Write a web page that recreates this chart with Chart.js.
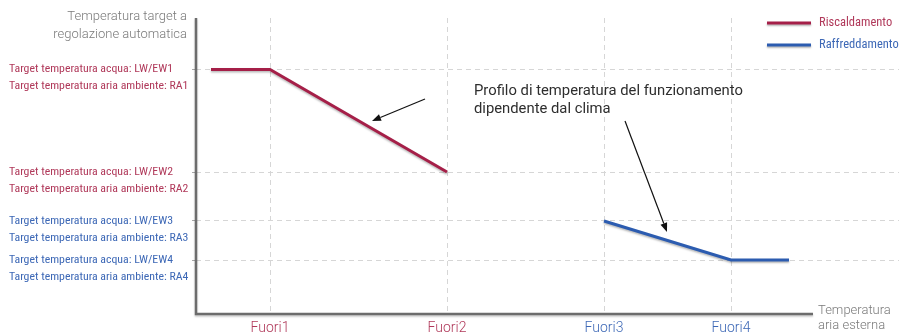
<!DOCTYPE html>
<html>
<head>
<meta charset="utf-8">
<script src="https://cdn.jsdelivr.net/npm/chart.js@4"></script>
<style>
  html, body { margin: 0; padding: 0; background: #fff; }
  #wrap { width: 899px; height: 335px; position: relative; }
</style>
</head>
<body>
<div id="wrap"><canvas id="chart"></canvas></div>
<script>
// dati (unità arbitrarie)
const fuoriLabels = ['Fuori1', 'Fuori2', 'Fuori3', 'Fuori4'];
const fuoriX = [7.4, 25.1, 40.8, 53.5];

const levelY = [24.45, 14.2, 9.3, 5.4];
const levelLabels = [
  ['Target temperatura acqua: LW/EW1', 'Target temperatura aria ambiente: RA1'],
  ['Target temperatura acqua: LW/EW2', 'Target temperatura aria ambiente: RA2'],
  ['Target temperatura acqua: LW/EW3', 'Target temperatura aria ambiente: RA3'],
  ['Target temperatura acqua: LW/EW4', 'Target temperatura aria ambiente: RA4'],
];

const heatingX = [1.5, 7.4, 25.1];
const heatingY = [24.45, 24.45, 14.2];
const coolingX = [40.8, 53.5, 59.3];
const coolingY = [9.3, 5.4, 5.4];

const yTitle = ['Temperatura target a', 'regolazione automatica'];
const xTitle = ['Temperatura', 'aria esterna'];
const noteLines = ['Profilo di temperatura del funzionamento', 'dipendente dal clima'];
const noteAt = { x: 27.8, y: [22.3, 20.5] };
// frecce: [da x, da y, a x, a y]
const arrows = [
  [22.9, 21.5, 17.6, 19.3],
  [42.9, 19.3, 47.1, 8.2],
];
const X_MAX = 70.3;
const Y_MAX = 29.6;
const X_AXIS_END = 61.7;

const RED = '#a51f48';
const BLUE = '#2c5cb0';
const RED_TXT = '#b0395a';
const BLUE_TXT = '#3d68b6';
const GRAY_TXT = '#7a7a7a';
const AXIS = '#6c6c6c';
const GRID = '#d6d6d6';
const NARROW = "'Roboto Condensed', 'DejaVu Sans Condensed', sans-serif";

const fuoriColors = [RED_TXT, RED_TXT, BLUE_TXT, BLUE_TXT];

function toPoints(xs, ys) {
  return xs.map((x, i) => ({ x, y: ys[i] }));
}

function drawArrow(ctx, x1, y1, x2, y2) {
  const ang = Math.atan2(y2 - y1, x2 - x1);
  const len = 9, half = 3.5;
  const bx = x2 - len * Math.cos(ang), by = y2 - len * Math.sin(ang);
  ctx.beginPath();
  ctx.moveTo(x1, y1);
  ctx.lineTo(bx, by);
  ctx.stroke();
  ctx.beginPath();
  ctx.moveTo(x2, y2);
  ctx.lineTo(bx + half * Math.sin(ang), by - half * Math.cos(ang));
  ctx.lineTo(bx - half * Math.sin(ang), by + half * Math.cos(ang));
  ctx.closePath();
  ctx.fill();
}

const decor = {
  id: 'decor',
  beforeDatasetsDraw(chart) {
    const c = chart.ctx;
    c.save();
    c.shadowColor = 'rgba(0,0,0,0.28)';
    c.shadowBlur = 2;
    c.shadowOffsetY = 1.5;
  },
  afterDatasetsDraw(chart) {
    chart.ctx.restore();
  },
  afterDraw(chart) {
    const { ctx, chartArea: a, scales: { x, y } } = chart;

    // assi
    ctx.save();
    ctx.strokeStyle = AXIS;
    ctx.lineWidth = 2.5;
    ctx.shadowColor = 'rgba(0,0,0,0.22)';
    ctx.shadowBlur = 2;
    ctx.shadowOffsetY = 1.5;
    ctx.beginPath();
    ctx.moveTo(a.left, a.top);
    ctx.lineTo(a.left, a.bottom);
    ctx.lineTo(x.getPixelForValue(X_AXIS_END), a.bottom);
    ctx.stroke();
    ctx.restore();

    ctx.save();
    ctx.textBaseline = 'middle';
    ctx.font = '300 13px Roboto';
    ctx.fillStyle = GRAY_TXT;
    ctx.textAlign = 'right';
    ctx.fillText(yTitle[0], a.left - 9, 17);
    ctx.fillText(yTitle[1], a.left - 9, 35);
    ctx.textAlign = 'left';
    const ex = x.getPixelForValue(X_AXIS_END) + 5;
    ctx.fillText(xTitle[0], ex, a.bottom - 3);
    ctx.fillText(xTitle[1], ex, a.bottom + 12);

    // nota
    ctx.font = '14.8px Roboto';
    ctx.fillStyle = '#2e2e2e';
    noteLines.forEach((t, i) => ctx.fillText(t, x.getPixelForValue(noteAt.x), y.getPixelForValue(noteAt.y[i])));

    // frecce
    ctx.strokeStyle = '#111';
    ctx.fillStyle = '#111';
    ctx.lineWidth = 1.2;
    arrows.forEach(([x1, y1, x2, y2]) => drawArrow(ctx,
      x.getPixelForValue(x1), y.getPixelForValue(y1),
      x.getPixelForValue(x2), y.getPixelForValue(y2)));

    // legenda
    const lx = chart.width - 132;
    chart.data.datasets.forEach((ds, i) => {
      const ly = 23 + i * 22;
      ctx.save();
      ctx.strokeStyle = ds.borderColor;
      ctx.lineWidth = 3;
      ctx.shadowColor = 'rgba(0,0,0,0.28)';
      ctx.shadowBlur = 2;
      ctx.shadowOffsetY = 1.5;
      ctx.beginPath();
      ctx.moveTo(lx, ly);
      ctx.lineTo(lx + 44, ly);
      ctx.stroke();
      ctx.restore();
      ctx.font = '12.5px ' + NARROW;
      ctx.fillStyle = i === 0 ? RED_TXT : BLUE_TXT;
      ctx.fillText(ds.label, lx + 52, ly);
    });
    ctx.restore();
  },
};

new Chart(document.getElementById('chart'), {
  type: 'line',
  data: {
    datasets: [
      {
        label: 'Riscaldamento',
        data: toPoints(heatingX, heatingY),
        borderColor: RED,
        borderWidth: 3,
        pointRadius: 0,
        tension: 0,
      },
      {
        label: 'Raffreddamento',
        data: toPoints(coolingX, coolingY),
        borderColor: BLUE,
        borderWidth: 3,
        pointRadius: 0,
        tension: 0,
      },
    ],
  },
  options: {
    responsive: true,
    maintainAspectRatio: false,
    animation: false,
    layout: { padding: { top: 18, left: 9, right: 0, bottom: 0 } },
    plugins: { legend: { display: false }, tooltip: { enabled: false } },
    scales: {
      x: {
        type: 'linear',
        min: 0,
        max: X_MAX,
        afterBuildTicks: s => { s.ticks = fuoriX.map(v => ({ value: v })); },
        afterFit: s => { s.height = 21; s.paddingLeft = 0; s.paddingRight = 0; },
        ticks: {
          autoSkip: false,
          maxRotation: 0,
          padding: 6,
          callback: (v, i) => fuoriLabels[i],
          color: ctx => fuoriColors[ctx.index],
          font: { family: 'Roboto', size: 14, weight: '300' },
        },
        grid: { color: GRID, lineWidth: 1, drawTicks: false },
        border: { display: false, dash: [5, 4] },
      },
      y: {
        type: 'linear',
        min: 0,
        max: Y_MAX,
        afterBuildTicks: s => { s.ticks = levelY.map(v => ({ value: v })); },
        afterFit: s => { s.width = 187; s.paddingTop = 0; s.paddingBottom = 0; },
        ticks: {
          autoSkip: false,
          padding: 4,
          crossAlign: 'far',
          callback: (v, i) => ['', ...levelLabels[i]],
          color: ctx => (ctx.index < 2 ? RED_TXT : BLUE_TXT),
          font: { family: NARROW, size: 11.8, lineHeight: 1.42 },
        },
        grid: { color: GRID, lineWidth: 1, tickLength: 4, tickColor: '#a8a8a8' },
        border: { display: false, dash: [5, 4] },
      },
    },
  },
  plugins: [decor],
});
</script>
</body>
</html>
